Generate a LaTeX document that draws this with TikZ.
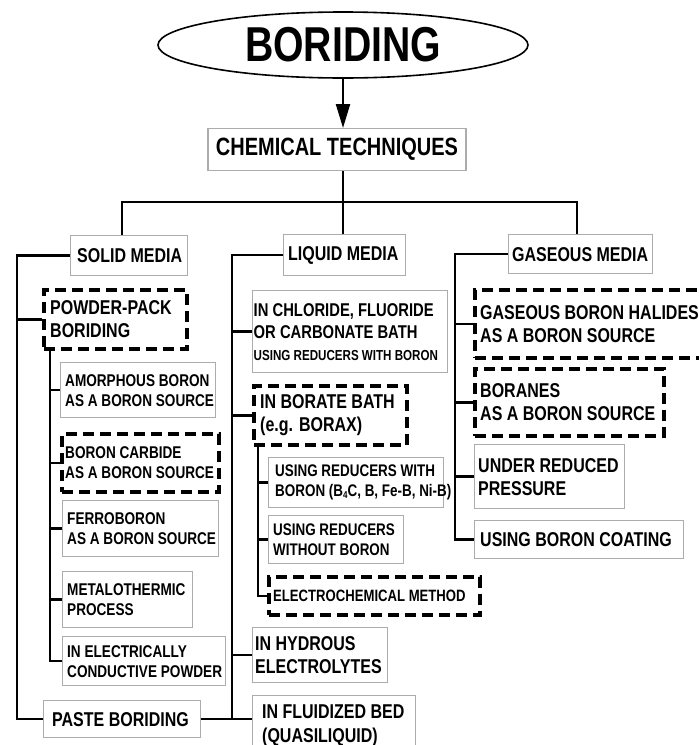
\documentclass[tikz,border=0pt]{standalone}
\usepackage{fontspec}
\newfontfamily\nar{Liberation Sans}[FakeStretch=0.8]
\usetikzlibrary{arrows.meta,shapes.geometric}
\newcommand\fsz[2]{\fontsize{#1}{#2}\selectfont}
\tikzset{
  sbox/.style={draw=gray!65, line width=1.3pt},
  dbox/.style={draw=black, line width=3.6pt, dash pattern=on 11pt off 6pt},
  txt/.style={align=left, inner sep=0pt, text=black},
  conn/.style={line width=2.4pt, black},
}
% #1 style, #2 name, #3 x, #4 y, #5 width, #6 height, #7 left pad, #8 size, #9 text
\newcommand\bx[9]{%
  \node[#1, minimum width=#5pt, minimum height=#6pt, anchor=north west, inner sep=0pt] (#2) at (#3,#4) {};
  \node[txt, font=\nar\bfseries#8, anchor=west] (#2-t) at ([xshift=#7pt]#2.west) {#9};
}
\begin{document}
\begin{tikzpicture}[x=1pt,y=-1pt]
\clip (0,0) rectangle (699,745);
\useasboundingbox (0,0) rectangle (699,745);
% title
\node[ellipse, draw, line width=1.6pt, minimum width=370pt, minimum height=66pt, inner sep=0pt, font=\nar\bfseries\fsz{49}{50}] (bor) at (343,45) {BORIDING};
\node[sbox, anchor=north, align=center, minimum width=258pt, minimum height=42pt, font=\nar\bfseries\fsz{25}{28}] (chem) at (337,128) {CHEMICAL TECHNIQUES};
% media
\bx{sbox}{solid}{70}{235}{117}{40}{7}{\fsz{20}{23}}{SOLID MEDIA}
\bx{sbox}{liquid}{283}{234}{122}{41}{5}{\fsz{20}{23}}{LIQUID MEDIA}
\bx{sbox}{gas}{508}{234}{144}{39}{4}{\fsz{20}{23}}{GASEOUS MEDIA}
% solid column
\bx{dbox}{powder}{42}{288}{143}{59}{8}{\fsz{20}{23}}{POWDER-PACK\\BORIDING}
\bx{sbox}{amorph}{60}{362}{155}{55}{5}{\fsz{17}{20}}{AMORPHOUS BORON\\AS A BORON SOURCE}
\bx{dbox}{carbide}{60}{432}{157}{58}{5}{\fsz{17}{20}}{BORON CARBIDE\\AS A BORON SOURCE}
\bx{sbox}{ferro}{62}{500}{156}{56}{5}{\fsz{17}{20}}{FERROBORON\\AS A BORON SOURCE}
\bx{sbox}{metal}{62}{571}{130}{56}{5}{\fsz{17}{20}}{METALOTHERMIC\\PROCESS}
\bx{sbox}{elec}{62}{636}{163}{49}{5}{\fsz{17}{20}}{IN ELECTRICALLY\\CONDUCTIVE POWDER}
\bx{sbox}{paste}{43}{700}{157}{37}{9}{\fsz{20}{23}}{PASTE BORIDING}
% liquid column
\bx{sbox}{chlor}{252}{290}{195}{82}{1.5}{\fsz{18.5}{22}}{IN CHLORIDE, FLUORIDE\\OR CARBONATE BATH\\{\fsz{14.5}{20}USING REDUCERS WITH BORON}}
\bx{dbox}{borate}{252}{384}{153}{59}{8}{\fsz{20}{23}}{IN BORATE BATH\\(e.g. BORAX)}
\bx{sbox}{redw}{268}{457}{175}{50}{7}{\fsz{16.8}{20}}{USING REDUCERS WITH\\BORON (B\lower2pt\hbox{\fsz{10}{10}4}C, B, Fe-B, Ni-B)}
\bx{sbox}{redwo}{268}{515}{135}{48}{5}{\fsz{16.8}{20}}{USING REDUCERS\\WITHOUT BORON}
\bx{dbox}{echem}{267}{575}{211}{38}{6}{\fsz{16.4}{20}}{ELECTROCHEMICAL METHOD}
\bx{sbox}{hydro}{252}{627}{135}{55}{3}{\fsz{20}{23}}{IN HYDROUS\\ELECTROLYTES}
\bx{sbox}{fluid}{252}{695}{163}{60}{10}{\fsz{20}{24}}{IN FLUIDIZED BED\\(QUASILIQUID)}
% gaseous column
\bx{dbox}{gashal}{473}{288}{247}{68}{7}{\fsz{20}{23}}{GASEOUS BORON HALIDES\\AS A BORON SOURCE}
\bx{dbox}{boranes}{473}{367}{189}{67}{7}{\fsz{20}{23}}{BORANES\\AS A BORON SOURCE}
\bx{sbox}{reduced}{474}{444}{150}{64}{4}{\fsz{20}{23}}{UNDER REDUCED\\PRESSURE}
\bx{sbox}{coating}{474}{520}{209}{38}{6}{\fsz{20}{23}}{USING BORON COATING}
% helper x positions
\coordinate (bar) at (343,202);
\coordinate (sx) at (17,0);
\coordinate (px) at (50,0);
\coordinate (lx) at (232,0);
\coordinate (bx) at (258,0);
\coordinate (gx) at (455,0);
% connectors
\draw[line width=2.2pt, -{Triangle[length=24pt,width=14pt]}] (bor.south) -- (chem.north -| bor.south);
\draw[conn] (chem.south -| bor.south) -- (bar);
\draw[conn] (solid.north -| 122,0) |- (bar) -| (gas.north -| 577,0);
\draw[conn] (bar) -- (liquid.north -| bar);
% solid
\draw[conn] (solid.west) -| (sx |- paste.west) -- (paste.west);
\draw[conn] (sx |- powder.west) -- (powder.west);
\draw[conn] (px |- powder.south) |- (elec.west);
\draw[conn] (px |- amorph.west) -- (amorph.west);
\draw[conn] (px |- carbide.west) -- (carbide.west);
\draw[conn] (px |- ferro.west) -- (ferro.west);
\draw[conn] (px |- metal.west) -- (metal.west);
\draw[conn] (paste.east) -- (paste.east -| fluid.west);
% liquid
\draw[conn] (liquid.west) -| (lx |- paste.east);
\draw[conn] (lx |- chlor.west) -- (chlor.west);
\draw[conn] (lx |- borate.west) -- (borate.west);
\draw[conn] (lx |- hydro.west) -- (hydro.west);
\draw[conn] (bx |- borate.south) |- (echem.west);
\draw[conn] (bx |- redw.west) -- (redw.west);
\draw[conn] (bx |- redwo.west) -- (redwo.west);
% gaseous
\draw[conn] (gas.west) -| (gx |- coating.west) -- (coating.west);
\draw[conn] (gx |- gashal.west) -- (gashal.west);
\draw[conn] (gx |- boranes.west) -- (boranes.west);
\draw[conn] (gx |- reduced.west) -- (reduced.west);
\end{tikzpicture}
\end{document}
